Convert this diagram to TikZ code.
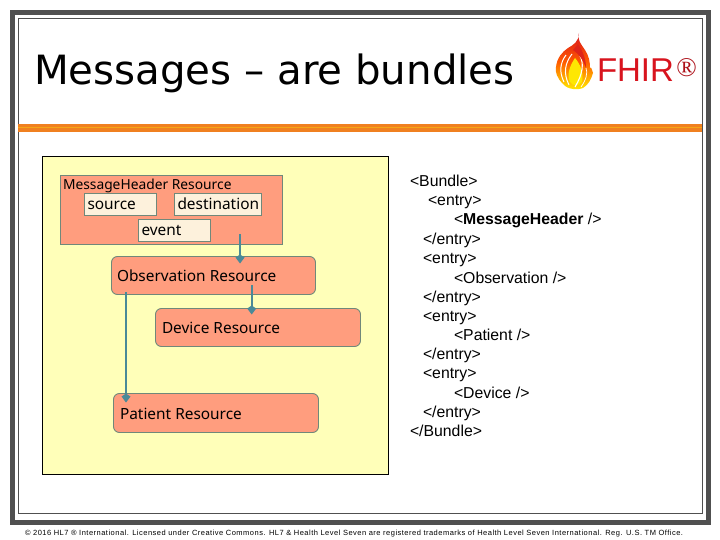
\documentclass[tikz,border=0pt]{standalone}
\usepackage{fontspec}
\setmainfont{Liberation Sans}
\newfontfamily\titlefont{DejaVu Sans}
\newfontfamily\boxfont{Noto Sans}
\newfontfamily\footfont[LetterSpace=6.5]{Liberation Sans}
\newfontfamily\regfont{Liberation Serif}
\usetikzlibrary{arrows.meta,calc}
\definecolor{frameg}{HTML}{505050}
\definecolor{salmon}{HTML}{FF9D7E}
\definecolor{edgeg}{HTML}{70887A}
\definecolor{cream}{HTML}{FDF1DC}
\definecolor{pale}{HTML}{FFFFB9}
\definecolor{teal}{HTML}{4A8A98}
\definecolor{firered}{HTML}{D8141E}
\definecolor{orangeln}{HTML}{F08020}
\tikzset{
  every node/.style={inner sep=0pt,outer sep=0pt},
  hdrbox/.style={draw=edgeg,fill=salmon,line width=0.9pt,anchor=north west},
  resbox/.style={hdrbox,rounded corners=6pt},
  fieldbox/.style={draw=edgeg,fill=cream,line width=0.9pt,anchor=north west},
  boxtext/.style={font=\boxfont\fontsize{15.4}{18}\selectfont,text=black,anchor=base west},
  xmlline/.style={font=\fontsize{15.8}{18}\selectfont,text=black,anchor=base west},
  linkarrow/.style={draw=teal,line width=1.8pt,-{Kite[length=9pt,width=9pt,inset=3pt]}}
}
\begin{document}
\begin{tikzpicture}[x=1pt,y=-1pt]
\useasboundingbox (0,0) rectangle (720,540);
\fill[white] (0,0) rectangle (720,540);
% frame
\draw[frameg,line width=5pt] (12.5,12.5) rectangle (708.5,522.5);
\draw[frameg,line width=1pt] (18.5,18.5) rectangle (702.5,513.5);
% rule
\fill[orangeln] (18,124) rectangle (702,132);
\fill[orangeln!70!yellow] (18,127) rectangle (702,128.5);
% title
\node[anchor=base west,font=\titlefont\fontsize{40.3}{44}\selectfont,text=black] (title) at (34,85) {Messages – are bundles};
% flame
\path[top color=firered,bottom color=yellow!85!orange,middle color=orange!70!red,draw=none]
  (579,33) .. controls (577,40) and (581,44) .. (585,50)
  .. controls (589,56) and (590,62) .. (590,68) .. controls (591,66) and (592,70) .. (593,73)
  .. controls (591,80) and (588,85) .. (583,88) .. controls (578,90) and (568,90) .. (563,84)
  .. controls (557,78) and (555,72) .. (556,67) .. controls (557,58) and (562,52) .. (568,48)
  .. controls (573,45) and (579,42) .. (579,33) -- cycle;
\path[fill=yellow!90!orange] (575,58) .. controls (580,64) and (584,72) .. (582,82)
  .. controls (578,87) and (573,86) .. (570,82) .. controls (566,74) and (571,64) .. (575,58) -- cycle;
\draw[white,line width=1pt] (566,55) .. controls (560,63) and (559,72) .. (564,82);
\draw[white,line width=1pt] (572,54) .. controls (565,63) and (563,73) .. (569,85);
\draw[white,line width=1.1pt] (580,56) .. controls (584,63) and (583,74) .. (575,87);
\draw[white,line width=0.7pt] (586,68) .. controls (588,73) and (586,80) .. (581,87);
\path[fill=firered!85!orange] (578,44) .. controls (582,50) and (586,58) .. (586,68) .. controls (583,60) and (579,54) .. (573,50) -- cycle;
% FHIR
\node[anchor=base west,font=\fontsize{33}{36}\selectfont,text=firered] (fhir) at (597,82) {FHIR};
\node[anchor=center,font=\regfont\fontsize{27}{30}\selectfont,text=firered!80!black] (reg) at (686.5,68) {®};
% panel
\draw[black,fill=pale,line width=1pt] (42.5,156.5) rectangle (388.5,474.5);
% boxes
\node[hdrbox,minimum width=222pt,minimum height=69pt] (msg) at (60.5,175.5) {};
\node[boxtext,font=\boxfont\fontsize{13.8}{17}\selectfont] (msgt) at (63,190) {MessageHeader Resource};
\node[fieldbox,minimum width=72pt,minimum height=22pt] (src) at (84.5,193.5) {};
\node[boxtext] (srct) at (87.5,210) {source};
\node[fieldbox,minimum width=87pt,minimum height=22pt] (dst) at (174.5,193.5) {};
\node[boxtext] (dstt) at (177.5,210) {destination};
\node[fieldbox,minimum width=72pt,minimum height=22pt] (evt) at (138.5,219.5) {};
\node[boxtext] (evtt) at (141.5,236) {event};
\node[resbox,minimum width=204pt,minimum height=38pt] (obs) at (111.5,256.5) {};
\node[boxtext] (obst) at (117,281) {Observation Resource};
\node[resbox,minimum width=205pt,minimum height=38pt] (dev) at (155.5,308.5) {};
\node[boxtext] (devt) at (162,333) {Device Resource};
\node[resbox,minimum width=205pt,minimum height=39pt] (pat) at (113.5,393.5) {};
\node[boxtext] (patt) at (120,419) {Patient Resource};
% connectors
\coordinate (a1s) at ($(msg.south west)+(179.5,-10.5)$);
\coordinate (a1e) at ($(obs.north west)+(128.5,7)$);
\coordinate (a2s) at ($(obs.south west)+(140.2,-9.5)$);
\coordinate (a2e) at ($(dev.north west)+(96.2,6)$);
\coordinate (a3s) at ($(obs.south west)+(14.5,-2.5)$);
\coordinate (a3e) at ($(pat.north west)+(12.5,9)$);
\draw[linkarrow] (a1s) -- (a1e);
\draw[linkarrow] (a2s) -- (a2e);
\draw[linkarrow] (a3s) -- (a3e);
% xml
\node[xmlline] (x1) at (410,187) {<Bundle>};
\node[xmlline] (x2) at (428,206) {<entry>};
\node[xmlline] (x3) at (454,225) {<\textbf{MessageHeader} />};
\node[xmlline] (x4) at (423,244) {</entry>};
\node[xmlline] (x5) at (423,263) {<entry>};
\node[xmlline] (x6) at (454,283) {<Observation />};
\node[xmlline] (x7) at (423,302) {</entry>};
\node[xmlline] (x8) at (423,321) {<entry>};
\node[xmlline] (x9) at (454,340) {<Patient />};
\node[xmlline] (x10) at (423,359) {</entry>};
\node[xmlline] (x11) at (423,378) {<entry>};
\node[xmlline] (x12) at (454,398) {<Device />};
\node[xmlline] (x13) at (423,417) {</entry>};
\node[xmlline] (x14) at (410,436) {</Bundle>};
% footer
\node[anchor=base west,font=\footfont\fontsize{7.5}{9}\selectfont,text=black] (foot) at (25,535) {© 2016 HL7 ® International. Licensed under Creative Commons. HL7 \& Health Level Seven are registered trademarks of Health Level Seven International. Reg. U.S. TM Office.};
\end{tikzpicture}
\end{document}
